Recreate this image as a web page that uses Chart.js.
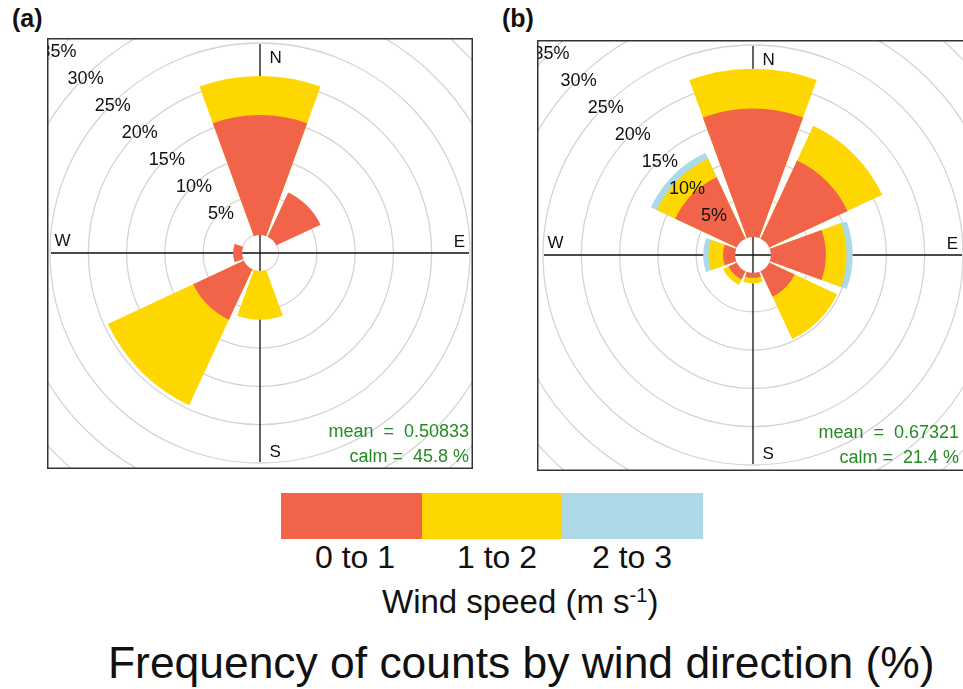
<!DOCTYPE html>
<html>
<head>
<meta charset="utf-8">
<script src="https://cdn.jsdelivr.net/npm/chart.js@4.4.1/dist/chart.umd.min.js"></script>
<style>
body { margin:0; width:963px; height:689px; overflow:hidden; background:#fff; position:relative;
       font-family:"Liberation Sans", Arial, Helvetica, sans-serif; color:#111; }
.abs { position:absolute; white-space:pre; }
.panel { font-size:25px; line-height:25px; font-weight:bold; }
.stat { font-size:18px; line-height:18px; color:#228B22; text-align:right; width:220px; }
.key { font-size:32px; line-height:32px; text-align:center; width:140px; }
sup { font-size:20px; line-height:0; vertical-align:0.55em; }
canvas { position:absolute; }
</style>
</head>
<body>
<div class="abs panel" style="left:12px; top:6px">(a)</div>
<div class="abs panel" style="left:502px; top:6px">(b)</div>

<canvas id="roseA" width="426" height="431" style="left:47px; top:38px"></canvas>
<canvas id="roseB" width="432" height="431" style="left:537px; top:40px"></canvas>

<div class="abs stat" style="left:249px; top:422px">mean  =  0.50833</div>
<div class="abs stat" style="left:249px; top:447px">calm =  45.8 %</div>
<div class="abs stat" style="left:739px; top:423px">mean  =  0.67321</div>
<div class="abs stat" style="left:739px; top:448px">calm =  21.4 %</div>

<div id="keybar" class="abs" style="left:281px; top:493px; height:46px; width:422px; display:flex"></div>
<div class="abs key" style="left:285px; top:541px">0 to 1</div>
<div class="abs key" style="left:427px; top:541px">1 to 2</div>
<div class="abs key" style="left:562px; top:541px">2 to 3</div>
<div class="abs" style="left:382px; top:585px; font-size:33px; line-height:33px">Wind speed (m s<sup>-1</sup>)</div>
<div class="abs" style="left:108px; top:641px; font-size:44.4px; line-height:44px">Frequency of counts by wind direction (%)</div>

<script>
// wind directions (8 sectors) and speed bins
const directions = ['N', 'NE', 'E', 'SE', 'S', 'SW', 'W', 'NW'];
const speedBins = ['0 to 1', '1 to 2', '2 to 3'];
const speedColors = ['#F26449', '#FFD700', '#ADD8E6'];

// frequency (%) per bin, panel (a)
const aBin1 = [15.6, 6.3, 0, 0, 0, 7.2, 1.1, 0];
const aBin2 = [5.1, 0, 0, 0, 6.3, 12.3, 0, 0];
const aBin3 = [0, 0, 0, 0, 0, 0, 0, 0];

// frequency (%) per bin, panel (b)
const bBin1 = [16.7, 11.2, 7.1, 3.6, 0.6, 1.1, 1.5, 8.8];
const bBin2 = [5.2, 5.0, 2.7, 6.1, 0.7, 0.8, 1.9, 2.65];
const bBin3 = [0, 0, 0.8, 0, 0, 0, 0.7, 0.85];

const ringValues = [0, 5, 10, 15, 20, 25, 30, 35, 40];
const tickValues = [5, 10, 15, 20, 25, 30, 35];

const PX_PER_PCT = 7.66;   // radial scale
const HOLE_PX = 18.5;      // calm circle radius
const R_MIN = -HOLE_PX / PX_PER_PCT;
const WEDGE = 40, GAP = 5; // degrees
const AXIS_LEN = 209;

// legend bar
speedColors.forEach(c => {
  const d = document.createElement('div');
  d.style.flex = '1';
  d.style.background = c;
  document.getElementById('keybar').appendChild(d);
});

// cumulative values; an empty bin gets no wedge (scale minimum = zero radius)
function stackBins(bins) {
  let run = directions.map(() => 0);
  return bins.map(b => {
    run = run.map((v, i) => v + b[i]);
    return run.map((v, i) => b[i] > 0 ? v : R_MIN);
  });
}
function interleave(vals) {
  const o = [];
  vals.forEach(v => o.push(v, R_MIN));
  return o;
}

function drawCross(ctx, cx, cy) {
  ctx.save();
  ctx.strokeStyle = '#111';
  ctx.lineWidth = 1.3;
  ctx.beginPath();
  ctx.moveTo(cx, cy - AXIS_LEN); ctx.lineTo(cx, cy + AXIS_LEN);
  ctx.moveTo(cx - AXIS_LEN, cy); ctx.lineTo(cx + AXIS_LEN, cy);
  ctx.stroke();
  ctx.restore();
}

const roseDecor = {
  id: 'roseDecor',
  beforeDatasetsDraw(chart) {
    const s = chart.scales.r;
    drawCross(chart.ctx, s.xCenter, s.yCenter);
  },
  afterDatasetsDraw(chart) {
    const s = chart.scales.r, ctx = chart.ctx;
    const cx = s.xCenter, cy = s.yCenter;
    const r0 = s.getDistanceFromCenterForValue(0);
    ctx.save();
    ctx.fillStyle = '#fff';
    ctx.beginPath();
    ctx.arc(cx, cy, r0 - 0.6, 0, Math.PI * 2);
    ctx.fill();
    ctx.clip();
    drawCross(ctx, cx, cy);
    ctx.restore();

    ctx.save();
    ctx.fillStyle = '#111';
    ctx.font = '18px "Liberation Sans", Arial, sans-serif';
    ctx.textAlign = 'center';
    ctx.textBaseline = 'alphabetic';
    tickValues.forEach(v => {
      const d = s.getDistanceFromCenterForValue(v) * Math.SQRT1_2;
      ctx.fillText(v + '%', cx - d + 1.2, cy - d + 6.5);
    });
    ctx.font = '17px "Liberation Sans", Arial, sans-serif';
    ctx.textAlign = 'left';
    ctx.fillText('N', cx + 9.5, cy - 190);
    ctx.fillText('S', cx + 9.5, cy + 204);
    ctx.fillText('W', cx - 205.5, cy - 7);
    ctx.textAlign = 'right';
    ctx.fillText('E', cx + 205, cy - 6.5);

    ctx.strokeStyle = '#333';
    ctx.lineWidth = 1.5;
    ctx.strokeRect(0.75, 0.75, chart.width - 1.5, chart.height - 1.5);
    ctx.restore();
  }
};

function makeRose(id, bins) {
  const canvas = document.getElementById(id);
  const da = Math.floor(Math.min(canvas.width, canvas.height) / 2);
  const stacked = stackBins(bins);
  const labels = [];
  directions.forEach(d => labels.push(d, ''));
  return new Chart(canvas, {
    type: 'polarArea',
    data: {
      labels: labels,
      datasets: stacked.map((vals, k) => ({
        label: speedBins[k],
        data: interleave(vals),
        angle: c => (c.dataIndex % 2 ? GAP : WEDGE),
        backgroundColor: c => (c.dataIndex % 2 ? 'rgba(0,0,0,0)' : speedColors[k]),
        borderWidth: 0
      }))
    },
    options: {
      responsive: false,
      animation: false,
      events: [],
      layout: { padding: 0 },
      plugins: { legend: { display: false }, tooltip: { enabled: false } },
      scales: {
        r: {
          min: R_MIN,
          max: R_MIN + da / PX_PER_PCT,
          startAngle: -WEDGE / 2,
          ticks: { display: false },
          grid: { color: '#d4d4d4', lineWidth: 1.3, circular: true },
          angleLines: { display: false },
          pointLabels: { display: false },
          afterBuildTicks: sc => { sc.ticks = ringValues.map(v => ({ value: v })); }
        }
      }
    },
    plugins: [roseDecor]
  });
}

makeRose('roseA', [aBin1, aBin2, aBin3]);
makeRose('roseB', [bBin1, bBin2, bBin3]);
</script>
</body>
</html>
